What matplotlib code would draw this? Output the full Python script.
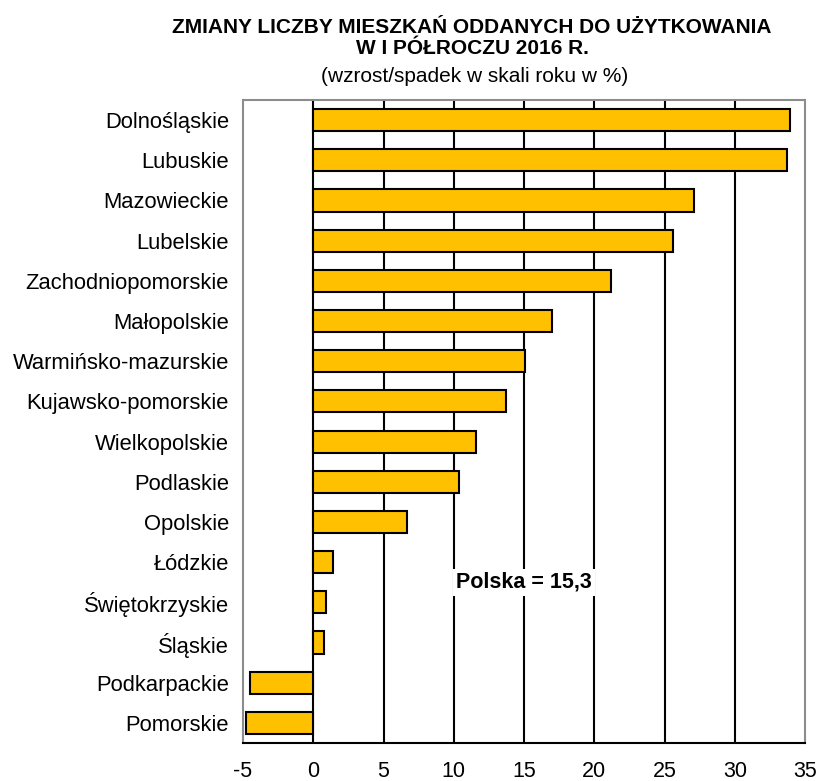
import matplotlib
matplotlib.use("Agg")
import matplotlib.pyplot as plt

regions = ["Dolnośląskie", "Lubuskie", "Mazowieckie", "Lubelskie", "Zachodniopomorskie",
           "Małopolskie", "Warmińsko-mazurskie", "Kujawsko-pomorskie", "Wielkopolskie",
           "Podlaskie", "Opolskie", "Łódzkie", "Świętokrzyskie", "Śląskie",
           "Podkarpackie", "Pomorskie"]
values = [33.9, 33.7, 27.1, 25.6, 21.2, 17.0, 15.1, 13.7, 11.6, 10.4, 6.7, 1.4, 0.9, 0.8, -4.5, -4.8]
xticks = [-5, 0, 5, 10, 15, 20, 25, 30, 35]
title = "ZMIANY LICZBY MIESZKAŃ ODDANYCH DO UŻYTKOWANIA\nW I PÓŁROCZU 2016 R."
subtitle = "(wzrost/spadek w skali roku w %)"
note = "Polska = 15,3"

plt.rcParams['font.family'] = ['Liberation Sans', 'DejaVu Sans']

fig = plt.figure(figsize=(8.19, 7.81), dpi=100)
ax = fig.add_axes([243/819, 1-743/781, (805-243)/819, (743-100)/781])

ypos = list(range(len(regions)))
ax.barh(ypos, values, height=0.55, color="#FFC000", edgecolor="black", linewidth=1.5, zorder=3)
ax.set_ylim(len(regions)-0.5, -0.5)
ax.set_xlim(-5, 35)
ax.set_xticks(xticks)
ax.set_xticklabels([str(t) for t in xticks], fontsize=15.5)
ax.set_yticks(ypos)
ax.set_yticklabels(regions, fontsize=15.8)
ax.tick_params(axis='both', length=0)
ax.tick_params(axis='y', pad=10)
ax.tick_params(axis='x', pad=13)

for t in xticks[1:-1]:
    ax.axvline(t, color="black", linewidth=1.5, zorder=1)

for side in ["left", "right", "top"]:
    ax.spines[side].set_color("#8c8c8c")
    ax.spines[side].set_linewidth(1.5)
ax.spines["bottom"].set_color("black")
ax.spines["bottom"].set_linewidth(1.5)

ax.text(15.0, 11.5, note, ha="center", va="center", fontsize=15.5, fontweight="bold",
        bbox=dict(facecolor="white", edgecolor="none", pad=2), zorder=4)

fig.text(472/819, 1-38/781, title, ha="center", va="center", fontsize=15,
         fontweight="bold", linespacing=1.15)
fig.text(475/819, 1-77/781, subtitle, ha="center", va="center", fontsize=15)

fig.savefig("out.png", dpi=100)
